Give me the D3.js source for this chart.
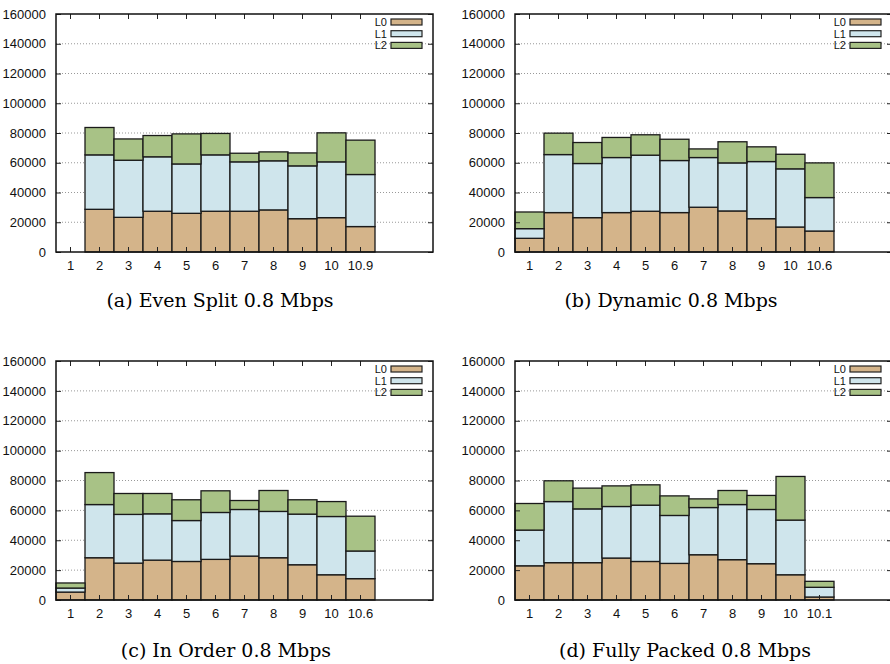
<!DOCTYPE html>
<html>
<head>
<meta charset="utf-8">
<script src="https://cdn.jsdelivr.net/npm/d3@7"></script>
<style>
  body { margin: 0; background: #fff; }
  svg { display: block; }
</style>
</head>
<body>
<div id="main"></div>
<script>
// data (per-layer sizes, stacked L0 -> L1 -> L2)
var labelsA = ["1", "2", "3", "4", "5", "6", "7", "8", "9", "10", "10.9"];
var evenL0 = [0, 28700, 23300, 27400, 26000, 27400, 27400, 28300, 22400, 23100, 17100];
var evenL1 = [0, 36600, 38400, 36600, 33200, 37900, 33200, 33000, 35500, 37500, 35000];
var evenL2 = [0, 18400, 14300, 14300, 20200, 14400, 5800, 6000, 8700, 19500, 23100];

var labelsB = ["1", "2", "3", "4", "5", "6", "7", "8", "9", "10", "10.6"];
var dynL0 = [9200, 26500, 23100, 26500, 27400, 26500, 30100, 27600, 22400, 16800, 14100];
var dynL1 = [6500, 39000, 36400, 37000, 37700, 35000, 33400, 32300, 38400, 39100, 22500];
var dynL2 = [11200, 14400, 14100, 13500, 13700, 14300, 5800, 14200, 9900, 9800, 23300];

var labelsC = ["1", "2", "3", "4", "5", "6", "7", "8", "9", "10", "10.6"];
var ordL0 = [5300, 28300, 24700, 26700, 25800, 27200, 29400, 28300, 23600, 16900, 14300];
var ordL1 = [2700, 35600, 32600, 31000, 27400, 31400, 31200, 31000, 33900, 39000, 18500];
var ordL2 = [3400, 21400, 14000, 13600, 13900, 14500, 6000, 14000, 9600, 10000, 23300];

var labelsD = ["1", "2", "3", "4", "5", "6", "7", "8", "9", "10", "10.1"];
var packL0 = [22900, 25000, 25000, 28100, 25800, 24500, 30300, 27000, 24300, 16900, 2000];
var packL1 = [23900, 40900, 36000, 34500, 37700, 32100, 31600, 36900, 36300, 36600, 6500];
var packL2 = [17800, 13900, 13900, 13800, 13600, 13100, 5800, 9400, 9400, 29200, 4000];

var layers = ["L0", "L1", "L2"];
var colors = ["#d4b48a", "#cfe5ec", "#a8c286"];
var yTicks = [0, 20000, 40000, 60000, 80000, 100000, 120000, 140000, 160000];
var nSlots = 13;

var panels = [
  {title: "(a) Even Split 0.8 Mbps", labels: labelsA, vals: [evenL0, evenL1, evenL2], left: 56, top: 14, h: 238, tx: 220, ty: 307},
  {title: "(b) Dynamic 0.8 Mbps", labels: labelsB, vals: [dynL0, dynL1, dynL2], left: 515, top: 14, h: 238, tx: 671, ty: 307},
  {title: "(c) In Order 0.8 Mbps", labels: labelsC, vals: [ordL0, ordL1, ordL2], left: 56, top: 361, h: 239, tx: 226, ty: 657},
  {title: "(d) Fully Packed 0.8 Mbps", labels: labelsD, vals: [packL0, packL1, packL2], left: 515, top: 361, h: 239, tx: 685, ty: 657}
];
var width = 377;

var svg = d3.select("#main")
  .append("svg")
    .attr("width", 890)
    .attr("height", 664);

panels.forEach(function(p) {
  var g = svg.append("g")
    .attr("transform", "translate(" + p.left + "," + p.top + ")");

  var x = d3.scaleBand()
    .domain(d3.range(nSlots))
    .range([0, width])
    .padding(0);

  var y = d3.scaleLinear()
    .domain([0, 160000])
    .range([p.h, 0]);

  // dotted grid
  g.append("g")
    .selectAll("line")
    .data(yTicks.slice(1, -1))
    .enter()
    .append("line")
      .attr("x1", 0)
      .attr("x2", width)
      .attr("y1", function(d) { return y(d); })
      .attr("y2", function(d) { return y(d); })
      .attr("stroke", "#999")
      .attr("stroke-width", 1)
      .attr("stroke-dasharray", "1,2");

  // stacked bars
  var rows = p.labels.map(function(l, i) {
    return {i: i, L0: p.vals[0][i], L1: p.vals[1][i], L2: p.vals[2][i]};
  });
  var stacked = d3.stack().keys(layers)(rows);

  g.append("g")
    .selectAll("g")
    .data(stacked)
    .enter()
    .append("g")
      .attr("fill", function(d, k) { return colors[k]; })
    .selectAll("rect")
    .data(function(d) { return d.filter(function(s) { return s[1] > s[0]; }); })
    .enter()
    .append("rect")
      .attr("x", function(d) { return x(d.data.i); })
      .attr("width", x.bandwidth())
      .attr("y", function(d) { return y(d[1]); })
      .attr("height", function(d) { return y(d[0]) - y(d[1]); })
      .attr("stroke", "#1a1a1a")
      .attr("stroke-width", 1.3);

  // axes, ticks pointing inward on all four sides
  var tickIdx = d3.range(p.labels.length);
  g.append("g")
    .attr("transform", "translate(0," + p.h + ")")
    .call(d3.axisBottom(x).tickValues(tickIdx).tickSize(-5).tickPadding(9)
      .tickFormat(function(i) { return p.labels[i]; }));
  g.append("g")
    .call(d3.axisTop(x).tickValues(tickIdx).tickSize(-5).tickFormat(""));
  g.append("g")
    .call(d3.axisLeft(y).tickValues(yTicks).tickSize(-5).tickPadding(10)
      .tickFormat(d3.format("d")));
  g.append("g")
    .attr("transform", "translate(" + width + ",0)")
    .call(d3.axisRight(y).tickValues(yTicks).tickSize(-5).tickFormat(""));

  g.selectAll(".domain").remove();
  g.selectAll(".tick line").attr("stroke", "#222");
  g.selectAll(".tick text")
    .attr("font-family", "'Liberation Sans', Arial, sans-serif")
    .attr("font-size", 13)
    .attr("fill", "#111");

  g.append("rect")
    .attr("width", width)
    .attr("height", p.h)
    .attr("fill", "none")
    .attr("stroke", "#111")
    .attr("stroke-width", 1.5);

  // legend
  var leg = g.append("g")
    .attr("transform", "translate(" + (width - 11) + ",8)");
  layers.forEach(function(name, k) {
    leg.append("rect")
      .attr("x", -31)
      .attr("y", k * 11.7 - 3)
      .attr("width", 31)
      .attr("height", 6)
      .attr("fill", colors[k])
      .attr("stroke", "#222")
      .attr("stroke-width", 1.2);
    leg.append("text")
      .attr("x", -35)
      .attr("y", k * 11.7)
      .attr("dy", "0.35em")
      .attr("text-anchor", "end")
      .attr("font-family", "'Liberation Sans', Arial, sans-serif")
      .attr("font-size", 11)
      .attr("fill", "#111")
      .text(name);
  });

  // subfigure caption
  svg.append("text")
    .attr("x", p.tx)
    .attr("y", p.ty)
    .attr("text-anchor", "middle")
    .attr("font-family", "'DejaVu Serif', serif")
    .attr("font-size", 19)
    .attr("fill", "#000")
    .text(p.title);
});
</script>
</body>
</html>
